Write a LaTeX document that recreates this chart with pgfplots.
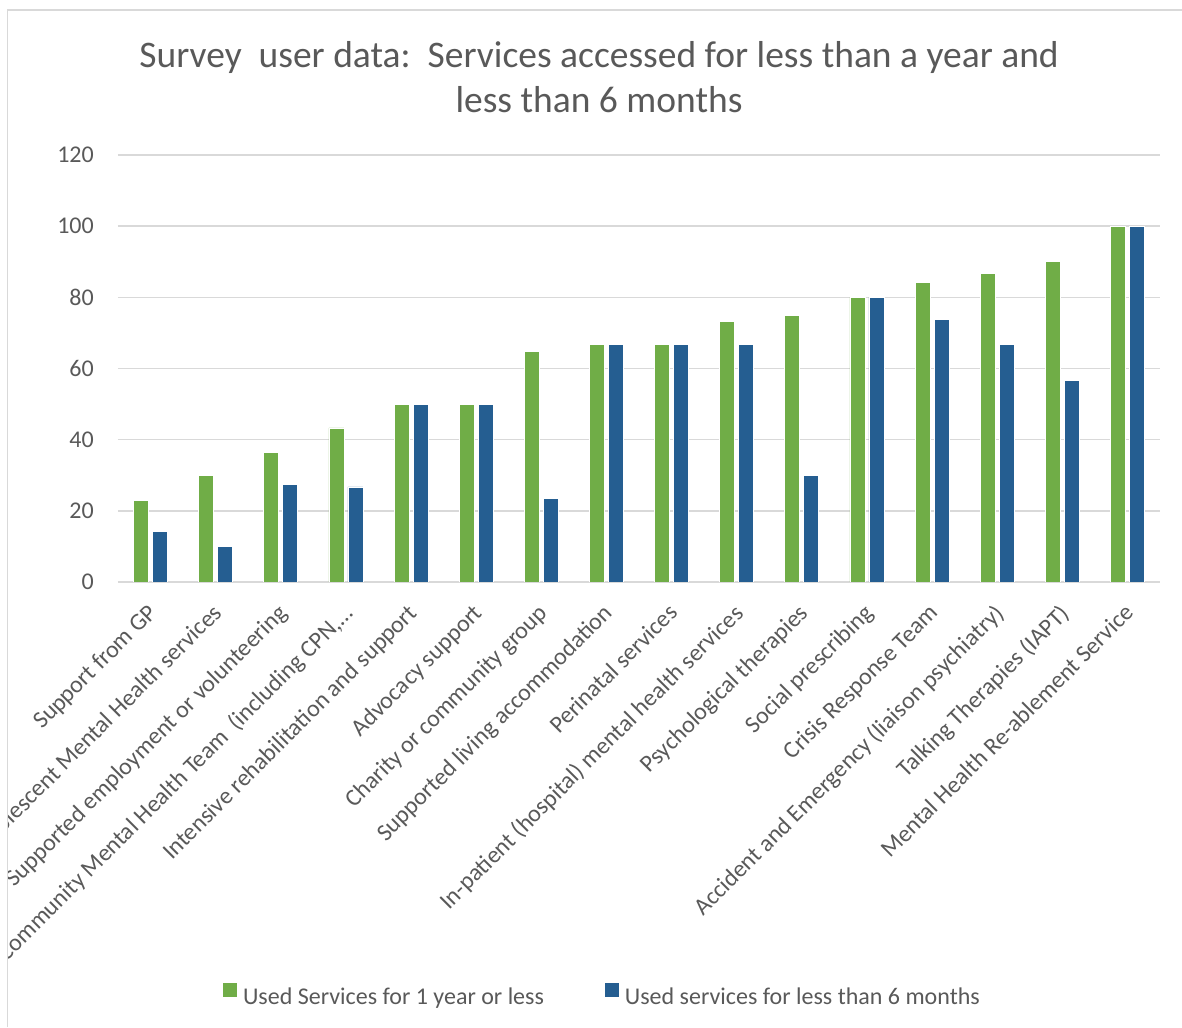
\documentclass[border=0pt]{standalone}
\usepackage{fontspec}
\setmainfont{Carlito}
\usepackage{pgfplots}
\pgfplotsset{compat=1.18}
\definecolor{cgreen}{HTML}{70AD47}
\definecolor{cblue}{HTML}{255E91}
\definecolor{ctext}{HTML}{595959}
\definecolor{cgrid}{HTML}{D9D9D9}

\begin{document}
\begin{tikzpicture}[x=1pt,y=1pt]
\begin{scope}
\clip (8,0) rectangle (1182,1017);
\begin{axis}[
  at={(118pt,445pt)}, anchor=south west,
  scale only axis, width=1042pt, height=427pt,
  xmin=-0.5, xmax=15.5, ymin=0, ymax=120,
  ybar=4pt, bar width=15pt,
  axis line style={draw=none},
  ytick={0,20,...,120},
  xtick={0,...,15},
  xticklabels={
    {Support from GP},
    {Child and Adolescent Mental Health services},
    {Supported employment or volunteering},
    {Community Mental Health Team\ \ (including CPN,…},
    {Intensive rehabilitation and support},
    {Advocacy support},
    {Charity or community group},
    {Supported living accommodation},
    {Perinatal services},
    {In-patient (hospital) mental health services},
    {Psychological therapies},
    {Social prescribing},
    {Crisis Response Team},
    {Accident and Emergency (liaison psychiatry)},
    {Talking Therapies (IAPT)},
    {Mental Health Re-ablement Service}},
  major tick length=0pt,
  ymajorgrids, grid style={cgrid, line width=1.5pt},
  tick label style={text=ctext, font=\fontsize{24}{28}\selectfont},
  /pgf/number format/assume math mode=true,
  yticklabel style={anchor=east, inner sep=0pt, xshift=-24pt},
  xticklabel style={rotate=45, anchor=north east, inner sep=0pt, yshift=-11.3pt, xshift=-17.4pt},
  legend image code/.code={\fill[#1,draw=none] (0pt,0pt) rectangle (14pt,14pt);},
  legend style={at={(0.1008,-0.965)}, anchor=west, draw=none, fill=none,
    inner sep=0pt, outer sep=0pt, legend columns=2,
    font=\fontsize{24}{28}\selectfont, text=ctext, nodes={inner sep=0pt},
    /tikz/every odd column/.append style={column sep=6pt},
    /tikz/every even column/.append style={column sep=61pt}},
]
\addplot[fill=cgreen, draw=white, line width=0.8pt] coordinates {
  (0,23) (1,30) (2,36.4) (3,43.3) (4,50) (5,50) (6,64.7) (7,66.7)
  (8,66.7) (9,73.3) (10,75) (11,80) (12,84.2) (13,86.7) (14,90) (15,100)};
\addlegendentry{Used Services for 1 year or less}
\addplot[fill=cblue, draw=white, line width=0.8pt] coordinates {
  (0,14.3) (1,10) (2,27.3) (3,26.7) (4,50) (5,50) (6,23.5) (7,66.7)
  (8,66.7) (9,66.7) (10,30) (11,80) (12,73.7) (13,66.7) (14,56.7) (15,100)};
\addlegendentry{Used services for less than 6 months}
\end{axis}
\end{scope}
\node[anchor=base, text=ctext, font=\fontsize{37.5}{44}\selectfont, inner sep=0pt] at (599,959) {Survey\ \ user data:\ \ Services accessed for less than a year and};
\node[anchor=base, text=ctext, font=\fontsize{37.5}{44}\selectfont, inner sep=0pt] at (599,914) {less than 6 months};
\draw[cgrid, line width=1.5pt] (7.5,0) -- (7.5,1017) -- (1182,1017);
\pgfresetboundingbox
\path[use as bounding box] (0,0) rectangle (1182,1027);
\end{tikzpicture}
\end{document}
